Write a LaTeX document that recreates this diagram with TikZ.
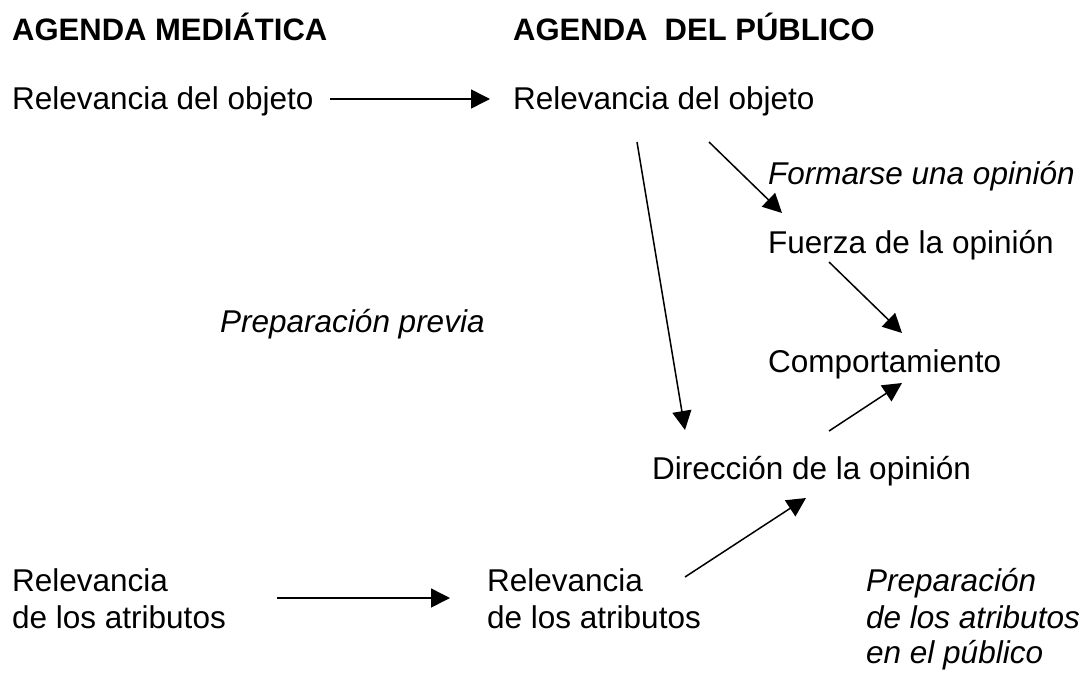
\documentclass[tikz,border=0pt]{standalone}
\usepackage{fontspec}
\setmainfont{Liberation Sans}
\usetikzlibrary{arrows.meta}
\tikzset{
  txt/.style={anchor=base west, inner sep=0pt, font=\fontsize{31.5}{37}\selectfont},
  hdr/.style={txt, font=\fontsize{31}{37}\selectfont\bfseries},
  itxt/.style={txt, font=\fontsize{31.5}{37}\selectfont\itshape},
  link/.style={line width=1.5pt, -{Triangle[length=19pt,width=19pt]}},
}

\begin{document}
\begin{tikzpicture}[x=1pt, y=-1pt]
        \useasboundingbox (0,0) rectangle (1089,672);
        % headings
        \node (h0) [hdr] at (12, 40) {AGENDA MEDIÁTICA};
        \node (h1) [hdr] at (513, 40) {AGENDA\ \ DEL PÚBLICO};
        % texts
        \node (m0) [txt] at (12, 109) {Relevancia del objeto};
        \node (p0) [txt] at (513, 109) {Relevancia del objeto};
        \node (f0) [itxt] at (768, 184) {Formarse una opinión};
        \node (p1) [txt] at (768, 253) {Fuerza de la opinión};
        \node (f1) [itxt] at (220, 332) {Preparación previa};
        \node (p2) [txt] at (768, 372) {Comportamiento};
        \node (p3) [txt] at (652, 479) {Dirección de la opinión};
        \node (m1) [txt] at (12, 591) {Relevancia};
        \node (m2) [txt] at (12, 628) {de los atributos};
        \node (p4) [txt] at (487, 591) {Relevancia};
        \node (p5) [txt] at (487, 628) {de los atributos};
        \node (f2) [itxt] at (866, 591) {Preparación};
        \node (f3) [itxt] at (866, 628) {de los atributos};
        \node (f4) [itxt] at (866, 663) {en el público};
        % arrow ends
        \coordinate (a0) at (330, 99);   \coordinate (b0) at (490, 99);
        \coordinate (a1) at (637, 142);  \coordinate (b1) at (685, 430);
        \coordinate (a2) at (709, 142);  \coordinate (b2) at (782, 213);
        \coordinate (a3) at (829, 262);  \coordinate (b3) at (902, 333);
        \coordinate (a4) at (829, 431);  \coordinate (b4) at (902, 383);
        \coordinate (a5) at (685, 577);  \coordinate (b5) at (806, 498);
        \coordinate (a6) at (277, 598);  \coordinate (b6) at (450, 598);
        \draw (a0) edge [link] (b0);
        \draw (a1) edge [link] (b1);
        \draw (a2) edge [link] (b2);
        \draw (a3) edge [link] (b3);
        \draw (a4) edge [link] (b4);
        \draw (a5) edge [link] (b5);
        \draw (a6) edge [link] (b6);
\end{tikzpicture}
\end{document}
